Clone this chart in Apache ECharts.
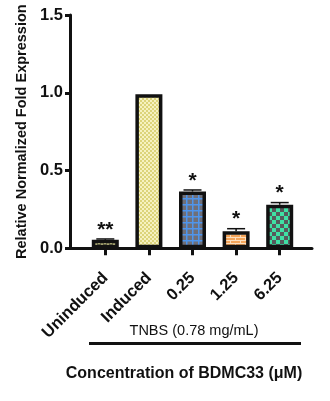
<!DOCTYPE html>
<html>
<head>
<meta charset="utf-8">
<script src="https://cdn.jsdelivr.net/npm/echarts@6/dist/echarts.min.js"></script>
<style>
  html, body { margin: 0; padding: 0; background: #fff; }
  #chart { width: 330px; height: 401px; }
</style>
</head>
<body>
<div id="chart"></div>
<script>
// Fold expression after TNBS induction and BDMC33 treatment
const categories = ['Uninduced', 'Induced', '0.25', '1.25', '6.25'];
const foldValues = [0.055, 0.99, 0.365, 0.11, 0.28];
const errorValues = [0.005, 0.0, 0.01, 0.016, 0.014];
const significance = ['**', '', '*', '*', '*'];
const yTicks = [0, 0.5, 1.0, 1.5];

const FONT = '"Liberation Sans", Arial, sans-serif';

function makePattern(size, draw) {
  const c = document.createElement('canvas');
  c.width = size[0];
  c.height = size[1];
  draw(c.getContext('2d'), size[0], size[1]);
  return { image: c, repeat: 'repeat' };
}

// fill patterns per group
const fills = [
  // small rings on olive
  makePattern([6, 6], (g, w, h) => {
    g.fillStyle = '#d2d08e'; g.fillRect(0, 0, w, h);
    g.strokeStyle = '#4f4f38'; g.lineWidth = 1;
    g.beginPath(); g.arc(3, 3, 2, 0, Math.PI * 2); g.stroke();
  }),
  // fine yellow checker
  makePattern([4, 4], (g, w, h) => {
    g.fillStyle = '#f6f2c0'; g.fillRect(0, 0, w, h);
    g.fillStyle = '#dcd47a';
    g.fillRect(0, 0, 2, 2); g.fillRect(2, 2, 2, 2);
  }),
  // blue grid on grey
  makePattern([6, 6], (g, w, h) => {
    g.fillStyle = '#6f6f78'; g.fillRect(0, 0, w, h);
    g.fillStyle = '#4f95ec';
    g.fillRect(0, 0, 1.5, h); g.fillRect(0, 0, w, 1.5);
  }),
  // brick on orange
  makePattern([10, 6], (g, w, h) => {
    g.fillStyle = '#f5a55a'; g.fillRect(0, 0, w, h);
    g.fillStyle = '#fde0c0';
    g.fillRect(0, 0, w, 1);
    g.fillRect(0, 3, w, 1);
    g.fillRect(0, 0, 1, 3);
    g.fillRect(5, 3, 1, 3);
  }),
  // green/grey checker
  makePattern([8, 8], (g, w, h) => {
    g.fillStyle = '#3fe0a4'; g.fillRect(0, 0, w, h);
    g.fillStyle = '#565a5c';
    g.fillRect(0, 0, 4, 4); g.fillRect(4, 4, 4, 4);
  })
];

const chart = echarts.init(document.getElementById('chart'), null, { renderer: 'canvas' });

const option = {
  animation: false,
  backgroundColor: '#fff',
  grid: [
    { left: 83.5, top: 15, width: 218, bottom: 152.7 },
    { left: 70, top: 15, width: 242, bottom: 152.7 }
  ],
  xAxis: [
    {
      type: 'category', gridIndex: 0, data: categories,
      axisLine: { show: false },
      axisTick: { show: true, alignWithLabel: true, length: 7, lineStyle: { color: '#111', width: 3 } },
      axisLabel: {
        rotate: 45, margin: 27, color: '#111',
        fontFamily: FONT, fontWeight: 'bold', fontSize: 16.5
      }
    },
    {
      type: 'value', gridIndex: 1, min: 0, max: 1,
      axisLine: { show: true, lineStyle: { color: '#111', width: 3 } },
      axisTick: { show: false }, axisLabel: { show: false }, splitLine: { show: false }
    }
  ],
  yAxis: [
    {
      type: 'value', gridIndex: 0, min: 0, max: 1.5,
      show: false
    },
    {
      type: 'value', gridIndex: 1, min: 0, max: 1.5, interval: 0.5,
      axisLine: { show: true, lineStyle: { color: '#111', width: 3 } },
      axisTick: { show: true, length: 5, lineStyle: { color: '#111', width: 3 } },
      splitLine: { show: false },
      axisLabel: {
        color: '#111', fontFamily: FONT, fontWeight: 'bold', fontSize: 16.5, margin: 7,
        customValues: yTicks,
        formatter: v => v.toFixed(1)
      },
      name: 'Relative Normalized Fold Expression',
      nameLocation: 'middle', nameGap: 37,
      nameTextStyle: { color: '#111', fontFamily: FONT, fontWeight: 'bold', fontSize: 14.5 }
    }
  ],
  series: [
    {
      type: 'bar', xAxisIndex: 0, yAxisIndex: 0,
      barWidth: 27,
      data: foldValues.map((v, i) => ({
        value: v,
        itemStyle: { color: fills[i] }
      })),
      itemStyle: { borderColor: '#111', borderWidth: 3.5 },
      z: 2
    },
    {
      type: 'custom', xAxisIndex: 0, yAxisIndex: 0,
      data: foldValues.map((v, i) => [i, v, errorValues[i]]),
      renderItem: (params, api) => {
        const i = api.value(0);
        const v = api.value(1);
        const e = api.value(2);
        const base = api.coord([i, v]);
        const top = api.coord([i, v + e]);
        const half = 9;
        const children = [];
        if (e > 0) {
          children.push({
            type: 'line', shape: { x1: base[0], y1: base[1], x2: top[0], y2: top[1] },
            style: { stroke: '#111', lineWidth: 1.5 }
          });
          children.push({
            type: 'line', shape: { x1: top[0] - half, y1: top[1], x2: top[0] + half, y2: top[1] },
            style: { stroke: '#111', lineWidth: 1.5 }
          });
        }
        const mark = significance[i];
        if (mark) {
          children.push({
            type: 'text',
            style: {
              x: top[0], y: top[1] + 1.5, text: mark,
              fill: '#111', font: 'bold 21px ' + FONT,
              align: 'center', verticalAlign: 'bottom'
            }
          });
        }
        return { type: 'group', children };
      },
      z: 1
    }
  ],
  graphic: [
    {
      type: 'text', x: 194, y: 331,
      style: {
        text: 'TNBS (0.78 mg/mL)', fill: '#111', font: '14.5px ' + FONT,
        align: 'center', verticalAlign: 'middle'
      }
    },
    {
      type: 'line', shape: { x1: 89, y1: 343.5, x2: 301, y2: 343.5 },
      style: { stroke: '#111', lineWidth: 3 }
    },
    {
      type: 'text', x: 184, y: 374,
      style: {
        text: 'Concentration of BDMC33 (\u03bcM)', fill: '#111', font: 'bold 16px ' + FONT,
        align: 'center', verticalAlign: 'middle'
      }
    }
  ]
};

chart.setOption(option);
</script>
</body>
</html>
